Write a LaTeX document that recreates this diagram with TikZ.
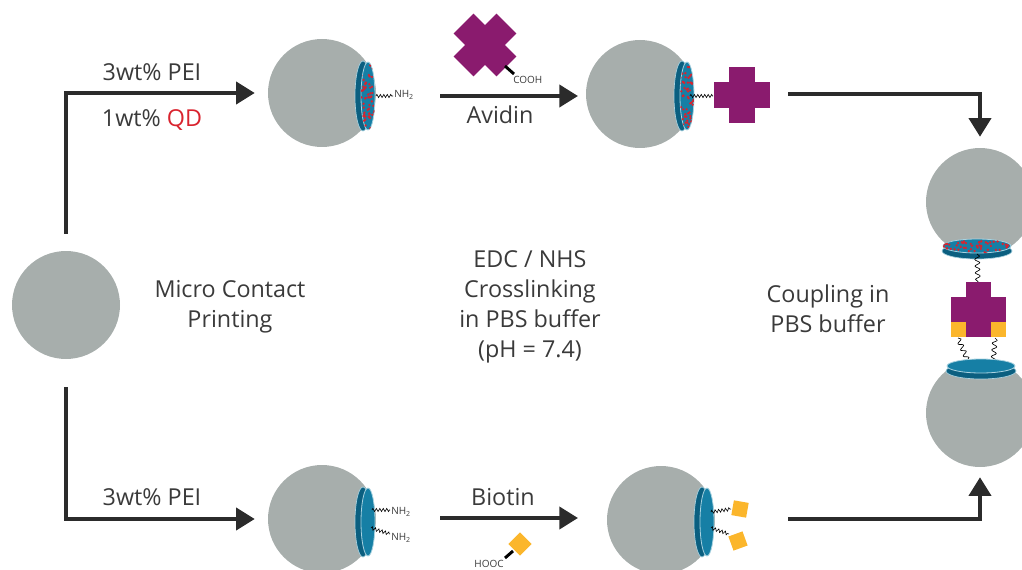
\documentclass[tikz,border=0pt]{standalone}
\usepackage{fontspec}
\setmainfont{Open Sans}
\usepackage{xcolor}
\usepackage{tikz}
\usetikzlibrary{calc,positioning,arrows.meta,decorations.pathmorphing}
\definecolor{beadgray}{HTML}{A7AEAC}
\definecolor{disc}{HTML}{167FA5}
\definecolor{discdark}{HTML}{0B5F80}
\definecolor{discrim}{HTML}{A8D2E0}
\definecolor{qdred}{HTML}{D9232E}
\definecolor{avidin}{HTML}{8A1B6E}
\definecolor{biotin}{HTML}{FBB62C}
\definecolor{ink}{HTML}{3A3A3A}
\definecolor{arrowink}{HTML}{2B2B2B}

% red quantum dots scattered over an elliptic face
\newcommand{\qdspots}[4]{%
  \begin{scope}
    \clip (#1,#2) ellipse [x radius=#3, y radius=#4];
    \foreach \k in {1,...,60}{
      \pgfmathsetmacro{\qx}{#1+(2*rnd-1)*#3}
      \pgfmathsetmacro{\qy}{#2+(2*rnd-1)*#4}
      \fill[qdred] (\qx,\qy) circle [radius=1.3];
    }
  \end{scope}}

\tikzset{
  bead/.style={circle, fill=beadgray, minimum size=81pt, inner sep=0pt},
  flow/.style={draw=arrowink, line width=3pt, -{Triangle[length=14pt,width=16.5pt]}},
  linker/.style={draw=black, line width=0.45pt, decorate,
    decoration={zigzag, segment length=2.6pt, amplitude=1.2pt}},
  tether/.style={draw=black, line width=0.5pt, decorate,
    decoration={snake, segment length=5pt, amplitude=1.8pt}},
  stub/.style={draw=black, line width=2.2pt},
  lbl/.style={text=ink, font=\fontsize{17.5}{22.5}\selectfont, align=center, inner sep=0pt},
  chem/.style={text=ink, font=\fontsize{7.5}{8}\selectfont, inner sep=0pt},
  biotinbox/.style={fill=biotin, minimum size=11.25pt, inner sep=0pt},
  pics/sidedisk/.style={code={
    \filldraw[fill=discdark, draw=discrim, line width=0.5pt] (-3,0) ellipse [x radius=8, y radius=35];
    \filldraw[fill=disc, draw=discrim, line width=0.6pt] (2,0) ellipse [x radius=7, y radius=34];
  }},
  pics/flatdisk/.style={code={
    \filldraw[fill=discdark, draw=discrim, line width=0.5pt] (0,-3) ellipse [x radius=35, y radius=8];
    \filldraw[fill=disc, draw=discrim, line width=0.6pt] (0,2) ellipse [x radius=34, y radius=7];
  }},
  pics/avidinplus/.style={code={
    \fill[avidin] (-13,-28) rectangle (13,28);
    \fill[avidin] (-28,-13) rectangle (28,13);
  }},
}

\begin{document}
\begin{tikzpicture}[x=0.75pt, y=0.75pt]
    \useasboundingbox (0,0) rectangle (1022,569);
    \pgfmathsetseed{11}

    % Core bead
    \node[bead] (core) at (66,264) {};
    \node[lbl] (mcp) at (230,262) {Micro Contact\\Printing};

    % Upper route: PEI + QD
    \node[lbl] (pei-a) at (152,497) {3wt\% PEI};
    \node[lbl] (qd) at (152,449) {1wt\% \textcolor{qdred}{QD}};
    \node[bead] (qdbead) at (322,476) {};
    \path (366,473) pic {sidedisk};
    \qdspots{368}{473}{7}{34}
    \draw[linker] (376,473) -- (393,473);
    \node[chem, anchor=west] (nh-a) at (394,474) {NH\textsubscript{2}};
    \draw[flow] ([yshift=12.75pt]core.north) |- ([xshift=-9.75pt]qdbead.west);

    % Avidin step
    \path (485,524) pic[rotate=45, scale=1.08] {avidinplus};
    \draw[stub] (505,503) -- (514,495);
    \node[chem, anchor=west] (cooh) at (513,489) {COOH};
    \node[lbl] (avidin-lbl) at (500,454) {Avidin};
    \coordinate (avidin-in) at (440,473);
    \coordinate (avidin-out) at (578,473);
    \draw[flow] (avidin-in) -- (avidin-out);

    \node[bead] (avbead) at (640,475) {};
    \path (685,473) pic {sidedisk};
    \qdspots{687}{473}{7}{34}
    \draw[linker] (690,473) -- (713,473);
    \path (742,474) pic {avidinplus};

    % Lower route: PEI
    \node[lbl] (pei-b) at (152,72) {3wt\% PEI};
    \node[bead] (aminebead) at (322,50) {};
    \path (366,47) pic {sidedisk};
    \draw[linker] (372,59) -- (390,59);
    \draw[linker] (371,41) -- (390,35);
    \node[chem, anchor=west] (nh-b) at (391,57) {NH\textsubscript{2}};
    \node[chem, anchor=west] (nh-c) at (391,31) {NH\textsubscript{2}};
    \draw[flow] ([yshift=-21pt]core.south) |- ([xshift=-9.75pt]aminebead.west);

    % Biotin step
    \node[lbl] (biotin-lbl) at (503,72) {Biotin};
    \coordinate (biotin-in) at (440,51);
    \coordinate (biotin-out) at (578,51);
    \draw[flow] (biotin-in) -- (biotin-out);
    \node[biotinbox, minimum size=12.4pt, rotate=45] (free-biotin) at (520,25) {};
    \draw[stub] (513,18) -- (505,11);
    \node[chem, anchor=base east] (hooc) at (504,2) {HOOC};

    \node[bead] (btbead) at (661,49) {};
    \path (705,47) pic {sidedisk};
    \draw[linker] (711,57) -- (731,60);
    \draw[linker] (711,41) -- (729,35);
    \node[biotinbox, rotate=-10] (bt-a) at (740,60) {};
    \node[biotinbox, rotate=20] (bt-b) at (738,28) {};

    % Middle labels
    \node[lbl] (edc) at (530,262.5) {EDC / NHS\\Crosslinking\\in PBS buffer\\(pH = 7.4)};
    \node[lbl] (coupling) at (828,260.5) {Coupling in\\PBS buffer};

    % Coupled pair
    \node[bead] (upper) at (980,367) {};
    \path (977,321) pic {flatdisk};
    \qdspots{977}{323}{34}{7}
    \draw[tether] (977,315) -- (978,287);
    \path (978.5,259.5) pic[scale=0.98] {avidinplus};
    \fill[biotin] (951,232) rectangle (966,247);
    \fill[biotin] (991,232) rectangle (1006,247);
    \begin{scope}
        \clip (900,0) rectangle (1022,203);
        \node[bead] (lower) at (980,156) {};
    \end{scope}
    \draw[tether] (958,231) -- (970,203);
    \draw[tether] (995,231) -- (993,203);
    \path (981,201) pic {flatdisk};

    \coordinate (avidin-end) at (788,475);
    \coordinate (biotin-end) at (788,50);
    \draw[flow] (avidin-end) -| ([yshift=8.25pt]upper.north);
    \draw[flow] (biotin-end) -| ([yshift=-7.5pt]lower.south);
\end{tikzpicture}
\end{document}
